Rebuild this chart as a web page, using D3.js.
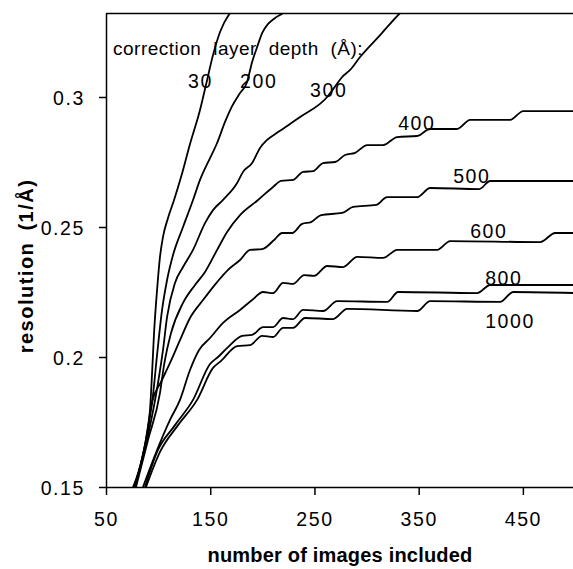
<!DOCTYPE html>
<html>
<head>
<meta charset="utf-8">
<script src="https://cdn.jsdelivr.net/npm/d3@7"></script>
<style>
  body { margin: 0; background: #fff; }
  svg text { font-family: "Liberation Sans", Arial, Helvetica, sans-serif; fill: #000; }
</style>
</head>
<body>
<svg id="chart"></svg>
<script>
// correction layer depths (Å), one curve each
const depths = [30, 200, 300, 400, 500, 600, 800, 1000];

// number of images included (x) and resolution in 1/Å (y) for each depth
const x30 = [75.9, 85.5, 92.2, 94.2, 96.1, 99.0, 101.8, 104.7, 109.5, 115.3, 122.0, 130.6, 140.2, 147.0, 152.7, 159.4, 171.0];
const y30 = [0.15, 0.1623, 0.1796, 0.1938, 0.2092, 0.2258, 0.2385, 0.2462, 0.2535, 0.2604, 0.2692, 0.2819, 0.2950, 0.3065, 0.3162, 0.3250, 0.3335];

const x200 = [76.9, 87.4, 95.1, 99.0, 103.8, 108.6, 114.3, 123.9, 133.5, 140.2, 149.8, 156.6, 164.2, 171.0, 178.6, 185.4, 190.2, 195.0, 199.8, 205.5, 212.2, 219.9, 226.6];
const y200 = [0.15, 0.1662, 0.1854, 0.2008, 0.2181, 0.2296, 0.2392, 0.2500, 0.2604, 0.2681, 0.2765, 0.2823, 0.2904, 0.2965, 0.3015, 0.3058, 0.3135, 0.3192, 0.3246, 0.3281, 0.3304, 0.3323, 0.3346];

const x300 = [77.8, 89.4, 99.9, 104.7, 108.6, 116.2, 123.9, 133.5, 145.0, 152.7, 162.3, 175.8, 181.5, 190.2, 197.8, 204.6, 215.1, 236.2, 262.2, 270.8, 276.6, 284.2, 293.8, 313.0, 332.2, 341.8];
const y300 = [0.15, 0.1681, 0.1900, 0.2027, 0.2154, 0.2285, 0.2346, 0.2412, 0.2515, 0.2565, 0.2604, 0.2669, 0.2712, 0.2746, 0.2804, 0.2835, 0.2865, 0.2923, 0.3000, 0.3046, 0.3077, 0.3104, 0.3154, 0.3238, 0.3323, 0.3358];

const x400 = [78.8, 90.3, 101.8, 105.7, 112.4, 123.9, 135.4, 145.0, 156.6, 166.2, 178.6, 195.9, 210.3, 218.0, 229.5, 239.1, 248.7, 258.3, 269.8, 279.4, 289.0, 300.6, 315.9, 329.4, 348.6, 361.0, 386.9, 399.4, 437.8, 450.3, 500];
const y400 = [0.15, 0.1681, 0.1862, 0.1969, 0.2092, 0.2208, 0.2277, 0.2327, 0.2412, 0.2481, 0.2546, 0.2604, 0.2654, 0.2677, 0.2681, 0.2712, 0.2715, 0.2746, 0.2750, 0.2777, 0.2785, 0.2815, 0.2815, 0.2846, 0.2850, 0.2877, 0.2877, 0.2912, 0.2912, 0.2946, 0.2946];

const x500 = [77.8, 87.4, 94.2, 102.8, 111.4, 121.0, 130.6, 143.1, 156.6, 167.1, 178.6, 188.2, 199.8, 211.3, 219.0, 228.6, 238.2, 246.8, 256.4, 276.6, 287.1, 309.2, 319.8, 348.6, 361.0, 408.1, 418.6, 500];
const y500 = [0.15, 0.1662, 0.1827, 0.1904, 0.1977, 0.2065, 0.2150, 0.2219, 0.2288, 0.2335, 0.2373, 0.2412, 0.2415, 0.2450, 0.2477, 0.2477, 0.2512, 0.2519, 0.2546, 0.2554, 0.2577, 0.2585, 0.2615, 0.2615, 0.2650, 0.2646, 0.2677, 0.2677];

const x600 = [85.5, 99.0, 111.4, 121.0, 130.6, 139.3, 149.8, 162.3, 178.6, 190.2, 200.7, 210.3, 219.9, 229.5, 240.1, 249.7, 262.2, 277.5, 291.0, 315.9, 329.4, 367.8, 380.2, 466.6, 481.0, 500];
const y600 = [0.15, 0.1642, 0.1758, 0.1835, 0.1950, 0.2027, 0.2073, 0.2131, 0.2181, 0.2219, 0.2250, 0.2246, 0.2285, 0.2281, 0.2315, 0.2312, 0.2350, 0.2346, 0.2385, 0.2381, 0.2412, 0.2412, 0.2446, 0.2442, 0.2477, 0.2477];

const x800 = [87.4, 99.0, 116.2, 133.5, 149.8, 157.5, 167.1, 180.6, 190.2, 200.7, 210.3, 219.9, 229.5, 239.1, 258.3, 271.8, 319.8, 330.3, 406.2, 418.6, 500];
const y800 = [0.15, 0.1635, 0.1738, 0.1835, 0.1973, 0.2000, 0.2038, 0.2081, 0.2085, 0.2115, 0.2115, 0.2150, 0.2146, 0.2181, 0.2177, 0.2215, 0.2212, 0.2250, 0.2246, 0.2277, 0.2277];

const x1000 = [88.4, 101.8, 119.1, 137.4, 152.7, 160.4, 175.8, 188.2, 199.8, 210.3, 219.9, 229.5, 241.0, 267.9, 281.4, 348.6, 361.0, 428.2, 440.7, 500];
const y1000 = [0.15, 0.1635, 0.1738, 0.1835, 0.1958, 0.1985, 0.2042, 0.2046, 0.2081, 0.2077, 0.2112, 0.2112, 0.2150, 0.2146, 0.2185, 0.2177, 0.2215, 0.2212, 0.2250, 0.2246];

const xSeries = [x30, x200, x300, x400, x500, x600, x800, x1000];
const ySeries = [y30, y200, y300, y400, y500, y600, y800, y1000];

// tick labels
const xTicks = [50, 150, 250, 350, 450];
const yTicks = [0.15, 0.2, 0.25, 0.3];
const yTickLabels = ['0.15', '0.2', '0.25', '0.3'];

// where each depth label sits, in data units (left edge, baseline)
const labelX = [128.7, 178.6, 245.8, 330.3, 383.1, 399.4, 413.8, 413.8];
const labelY = [0.3035, 0.3035, 0.3000, 0.2873, 0.2669, 0.2458, 0.2277, 0.2112];

const W = 573, H = 569;
const margin = { top: 13, right: -2, bottom: 82, left: 106 };

const svg = d3.select('#chart').attr('width', W).attr('height', H);
svg.append('rect').attr('width', W).attr('height', H).attr('fill', '#fff');

const x = d3.scaleLinear().domain([50, 500]).range([margin.left, W - margin.right]);
const y = d3.scaleLinear().domain([0.15, 0.15 + (H - margin.bottom - margin.top) / 2600])
    .range([H - margin.bottom, margin.top]);

svg.append('clipPath').attr('id', 'plot-clip')
    .append('rect')
    .attr('x', margin.left).attr('y', margin.top)
    .attr('width', W - margin.right - margin.left)
    .attr('height', H - margin.bottom - margin.top);

// curves
const line = d3.line()
    .x(d => x(d[0]))
    .y(d => y(d[1]))
    .curve(d3.curveMonotoneX);

const curves = svg.append('g').attr('clip-path', 'url(#plot-clip)');
depths.forEach((depth, i) => {
    const pts = xSeries[i].map((v, j) => [v, ySeries[i][j]]);
    curves.append('path')
        .datum(pts)
        .attr('fill', 'none')
        .attr('stroke', '#000')
        .attr('stroke-width', 1.8)
        .attr('stroke-linejoin', 'round')
        .attr('d', line);
});

// frame top line
svg.append('line')
    .attr('x1', margin.left).attr('x2', W)
    .attr('y1', margin.top + 0.5).attr('y2', margin.top + 0.5)
    .attr('stroke', '#000').attr('stroke-width', 1.5);

// axes
const xAxis = svg.append('g')
    .attr('transform', `translate(0,${H - margin.bottom})`)
    .call(d3.axisBottom(x).tickValues(xTicks).tickSize(8).tickSizeOuter(0).tickPadding(17));

const yAxis = svg.append('g')
    .attr('transform', `translate(${margin.left},0)`)
    .call(d3.axisLeft(y).tickValues(yTicks).tickSize(7).tickSizeOuter(0).tickPadding(14)
        .tickFormat((d, i) => yTickLabels[i]));

[xAxis, yAxis].forEach(ax => {
    ax.select('.domain').attr('stroke', '#000').attr('stroke-width', 1.5);
    ax.selectAll('.tick line').attr('stroke', '#000').attr('stroke-width', 1.5);
    ax.selectAll('.tick text')
        .attr('fill', '#000')
        .style('font-family', '"Liberation Sans", Arial, sans-serif')
        .style('font-size', '19.5px')
        .style('letter-spacing', '1.6px');
});
yAxis.selectAll('.tick text').attr('dy', '0.36em');

// depth labels
const labels = svg.append('g')
    .style('font-size', '19.5px')
    .style('letter-spacing', '1.6px');
depths.forEach((depth, i) => {
    labels.append('text')
        .attr('x', x(labelX[i]))
        .attr('y', y(labelY[i]))
        .text(depth);
});

svg.append('text')
    .attr('x', 113)
    .attr('y', 55)
    .style('font-size', '19px')
    .style('word-spacing', '6px')
    .style('letter-spacing', '0.5px')
    .text('correction layer depth (Å):');

// axis titles
svg.append('text')
    .attr('x', 340)
    .attr('y', 562)
    .attr('text-anchor', 'middle')
    .style('font-size', '20px')
    .style('font-weight', 'bold')
    .style('letter-spacing', '0.2px')
    .text('number of images included');

svg.append('text')
    .attr('transform', 'translate(33,266) rotate(-90)')
    .attr('text-anchor', 'middle')
    .style('font-size', '20px')
    .style('font-weight', 'bold')
    .style('letter-spacing', '1.5px')
    .style('word-spacing', '4px')
    .text('resolution (1/Å)');
</script>
</body>
</html>
